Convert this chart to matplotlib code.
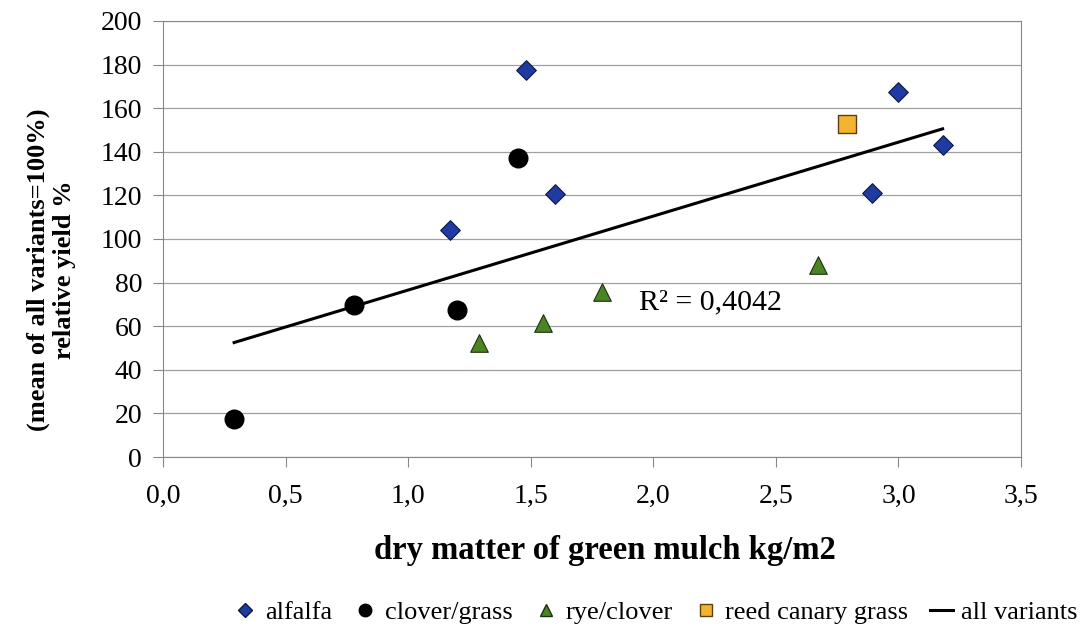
import matplotlib

matplotlib.use("Agg")
import matplotlib.pyplot as plt
from matplotlib.lines import Line2D

plt.rcParams["font.family"] = ["Liberation Serif", "DejaVu Serif"]

# data
alfalfa_x = [1.17, 1.48, 1.60, 2.89, 3.00, 3.18]
alfalfa_y = [104, 177.5, 120.5, 121, 167.5, 143]
clover_x = [0.29, 0.78, 1.20, 1.45]
clover_y = [17.5, 69.5, 67.5, 137]
rye_x = [1.29, 1.55, 1.79, 2.67]
rye_y = [52.5, 61.5, 75.5, 88]
reed_x = [2.79]
reed_y = [152.5]
trend_x = [0.29, 3.18]
trend_y = [52.5, 150.5]
r2_text = "R² = 0,4042"

xticks = [0.0, 0.5, 1.0, 1.5, 2.0, 2.5, 3.0, 3.5]
xtick_labels = ["0,0", "0,5", "1,0", "1,5", "2,0", "2,5", "3,0", "3,5"]
yticks = list(range(0, 201, 20))

fig = plt.figure(figsize=(10.89, 6.33), dpi=100)
ax = fig.add_axes([0.1497, 0.278, 0.7879, 0.689])

ax.plot(trend_x, trend_y, color="black", lw=2.2, zorder=3)
ax.scatter(alfalfa_x, alfalfa_y, marker="D", s=100, color="#1f3aa0", edgecolors="#101840", linewidths=0.8, zorder=4)
ax.scatter(clover_x, clover_y, marker="o", s=180, color="black", edgecolors="black", zorder=4)
ax.scatter(rye_x, rye_y, marker="^", s=160, color="#4b8325", edgecolors="#1c3010", linewidths=0.8, zorder=4)
ax.scatter(reed_x, reed_y, marker="s", s=160, color="#f5b430", edgecolors="#5a4010", linewidths=1.0, zorder=4)

ax.text(1.94, 67.5, r2_text, fontsize=21.5, va="baseline", ha="left", zorder=5)

ax.set_xlim(0, 3.5)
ax.set_ylim(0, 200)
ax.set_xticks(xticks)
ax.set_xticklabels(xtick_labels)
ax.set_yticks(yticks)
ax.tick_params(labelsize=20, direction="out", length=7, color="#888888", pad=8)
ax.tick_params(axis="x", pad=12)
ax.grid(axis="y", color="#a0a0a0", lw=0.9)
ax.set_axisbelow(True)
for sp in ax.spines.values():
    sp.set_color("#888888")

ax.set_xlabel("dry matter of green mulch kg/m2", fontsize=23.5, fontweight="bold")
ax.xaxis.set_label_coords(0.515, -0.178)
ax.set_ylabel("(mean of all variants=100%)\nrelative yield %", fontsize=19, fontweight="bold",
              linespacing=1.15)
ax.yaxis.set_label_coords(-0.102, 0.43)

handles = [
    Line2D([], [], ls="", marker="D", ms=7, color="#1f3aa0", mec="#101840", label="alfalfa"),
    Line2D([], [], ls="", marker="o", ms=9, color="black", label="clover/grass"),
    Line2D([], [], ls="", marker="^", ms=9, color="#4b8325", mec="#1c3010", label="rye/clover"),
    Line2D([], [], ls="", marker="s", ms=9, color="#f5b430", mec="#5a4010", label="reed canary grass"),
    Line2D([], [], color="black", lw=2.2, label="all variants"),
]
fig.legend(handles=handles, loc="center", bbox_to_anchor=(0.602, 0.033), ncol=5, frameon=False,
           fontsize=19, handlelength=0.9, handletextpad=0.3, columnspacing=0.8)

fig.savefig("out.png", dpi=100)
